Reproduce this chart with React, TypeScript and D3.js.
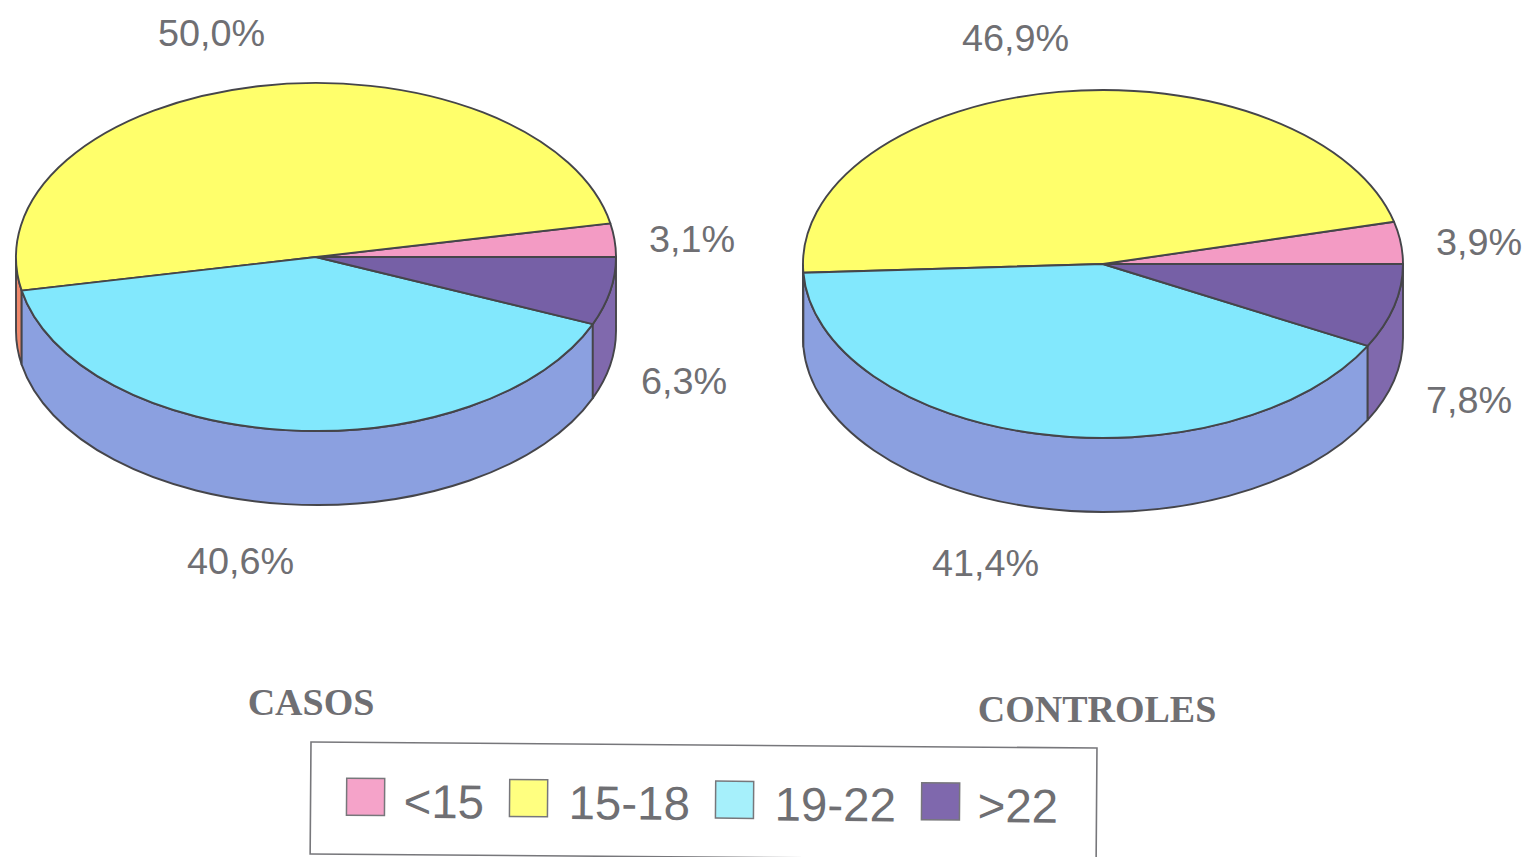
import React from "react";
import * as d3 from "d3";

// Age groups and the share of each group in the two study samples
const ageGroups = ["<15", "15-18", "19-22", ">22"];
const casosValues = [3.1, 50.0, 40.6, 6.3];
const controlesValues = [3.9, 46.9, 41.4, 7.8];

const topColors = ["#f39bc4", "#ffff6b", "#82e8fd", "#7660a6"];
const legendColors = ["#f5a3c9", "#ffff80", "#a6f0fb", "#7f68ad"];
const wallColors = ["#f39bc4", "#f0896c", "#8ba0e0", "#8069ad"];

const EDGE = "#45454a";
const TEXT = "#6f6f73";
const RX = 300;
const RY = 174;
const DEPTH = 74;

const formatPct = (v: number) => v.toFixed(1).replace(".", ",") + "%";

// Angles run counter-clockwise from three o'clock, starting with the first group.
const pieLayout = d3.pie<number>().sort(null).startAngle(0).endAngle(2 * Math.PI);

type PieProps = {
  cx: number;
  cy: number;
  values: number[];
  labelAt: [number, number][];
  title: string;
  titleAt: [number, number];
};

function TiltedPie({ cx, cy, values, labelAt, title, titleAt }: PieProps) {
  const x = d3.scaleLinear().domain([-1, 1]).range([cx - RX, cx + RX]);
  const y = d3.scaleLinear().domain([-1, 1]).range([cy + RY, cy - RY]);
  const px = (a: number) => x(Math.cos(a));
  const py = (a: number) => y(Math.sin(a));
  const arcs = pieLayout(values);

  const topPath = (a0: number, a1: number) =>
    `M${cx},${cy}L${px(a0)},${py(a0)}A${RX},${RY} 0 ${a1 - a0 > Math.PI ? 1 : 0} 0 ${px(a1)},${py(a1)}Z`;

  // Side wall of a slice: only the part on the near half of the rim is visible.
  const wallPath = (a0: number, a1: number) => {
    const s = Math.max(a0, Math.PI);
    const e = Math.min(a1, 2 * Math.PI);
    if (e <= s) return null;
    return (
      `M${px(s)},${py(s)}A${RX},${RY} 0 0 0 ${px(e)},${py(e)}` +
      `L${px(e)},${py(e) + DEPTH}A${RX},${RY} 0 0 1 ${px(s)},${py(s) + DEPTH}Z`
    );
  };

  return (
    <g>
      {arcs.map((d, i) => {
        const p = wallPath(d.startAngle, d.endAngle);
        return p ? <path key={i} d={p} fill={wallColors[i]} stroke={EDGE} strokeWidth={1.9} strokeLinejoin="round" /> : null;
      })}
      {arcs.map((d, i) => (
        <path key={i} d={topPath(d.startAngle, d.endAngle)} fill={topColors[i]} stroke={EDGE} strokeWidth={1.9} strokeLinejoin="round" />
      ))}
      {values.map((v, i) => (
        <text key={i} x={labelAt[i][0]} y={labelAt[i][1]} fontFamily="'Liberation Sans', Arial, sans-serif" fontSize={37.8} fill={TEXT}>
          {formatPct(v)}
        </text>
      ))}
      <text x={titleAt[0]} y={titleAt[1]} textAnchor="middle" fontFamily="'Liberation Serif', serif" fontWeight="bold" fontSize={38} fill={TEXT}>
        {title}
      </text>
    </g>
  );
}

const legendSwatchX = [36, 199, 405, 611];
const legendTextX = [93, 258, 464, 667];

function Legend() {
  return (
    <g transform="translate(311,742) rotate(0.44)">
      <rect x={0} y={0} width={786} height={112} fill="#fff" stroke="#77777b" strokeWidth={1.6} />
      {ageGroups.map((g, i) => (
        <g key={g}>
          <rect x={legendSwatchX[i]} y={36} width={38} height={37} fill={legendColors[i]} stroke="#77777b" strokeWidth={1.5} />
          <text x={legendTextX[i]} y={75} fontFamily="'Liberation Sans', Arial, sans-serif" fontSize={47.5} fill={TEXT}>
            {g}
          </text>
        </g>
      ))}
    </g>
  );
}

export default function App() {
  return (
    <svg
      width={1526}
      height={857}
      viewBox="0 0 1526 857"
      style={{ position: "absolute", left: 0, top: 0, display: "block", background: "#fff" }}
    >
      <TiltedPie
        cx={316}
        cy={257}
        values={casosValues}
        labelAt={[[649, 252], [158, 46], [187, 574], [641, 394]]}
        title="CASOS"
        titleAt={[311, 715]}
      />
      <TiltedPie
        cx={1103}
        cy={264}
        values={controlesValues}
        labelAt={[[1436, 255], [962, 51], [932, 576], [1426, 413]]}
        title="CONTROLES"
        titleAt={[1097, 722]}
      />
      <Legend />
    </svg>
  );
}
